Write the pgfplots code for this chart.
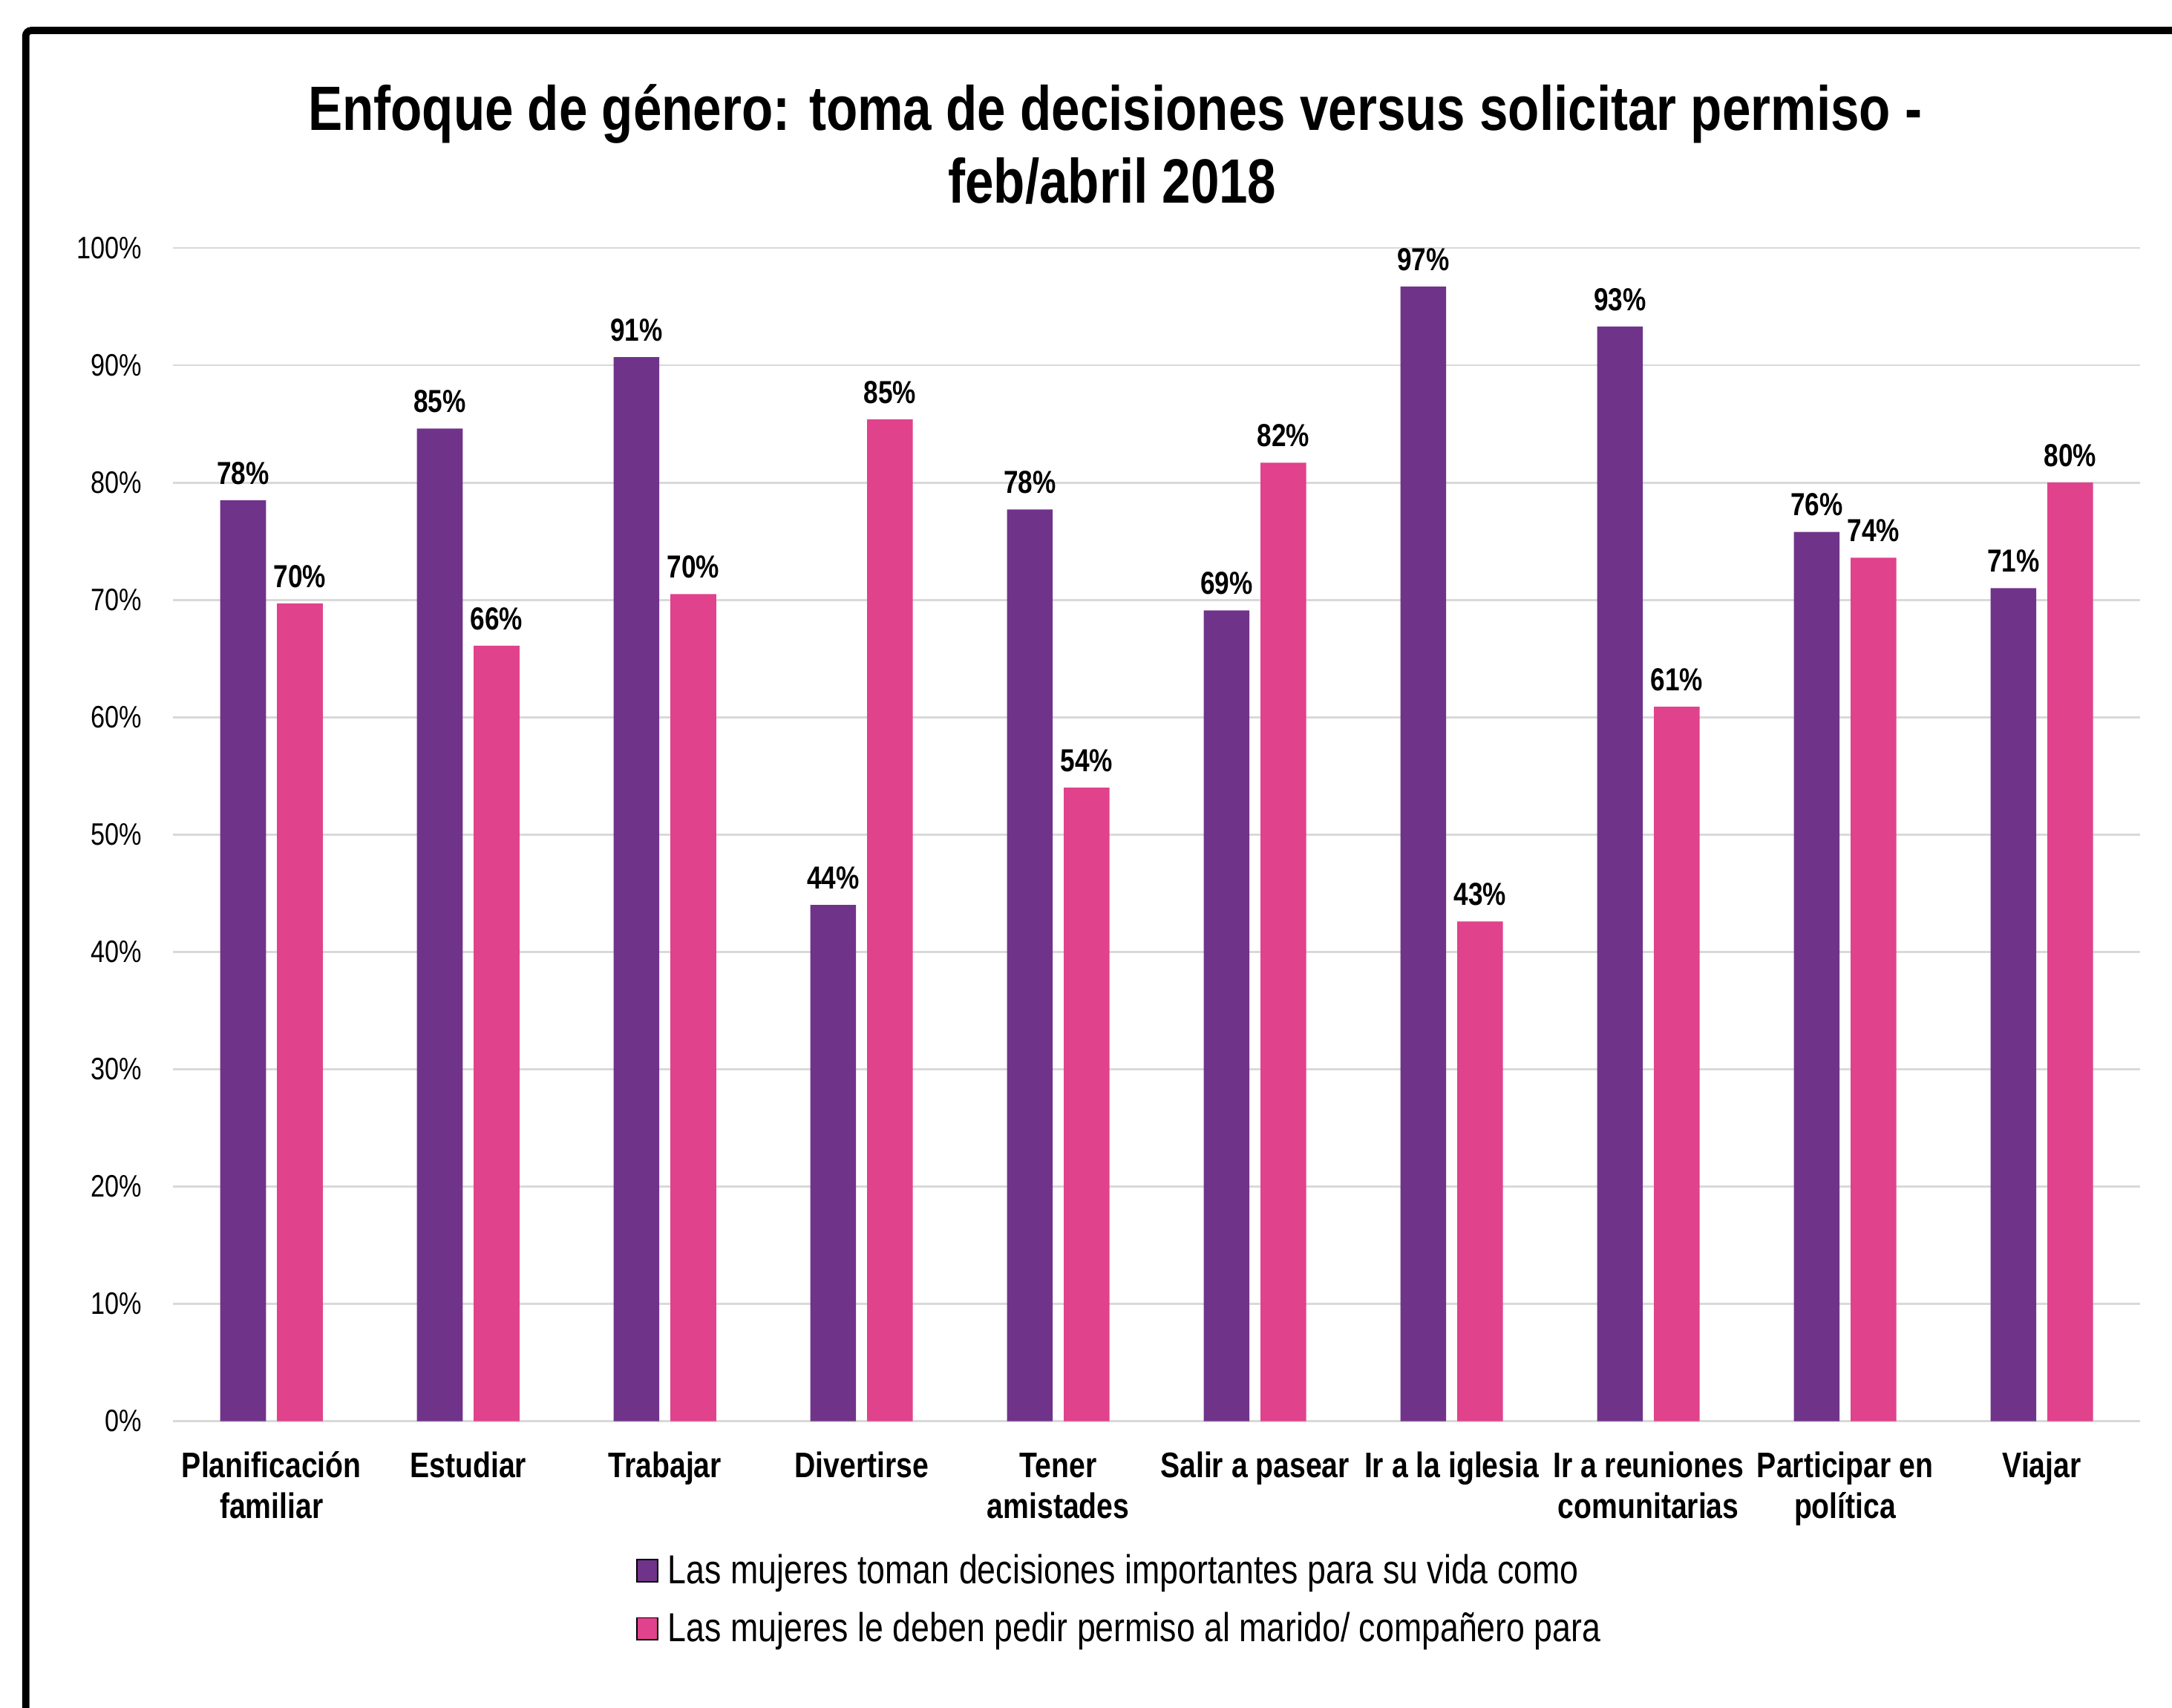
\documentclass[border=0pt]{standalone}
\usepackage{fontspec}
\setmainfont[FakeStretch=0.82]{Liberation Sans}
\usepackage{pgfplots}
\pgfplotsset{compat=1.18}
\definecolor{morado}{RGB}{112,51,138}
\definecolor{rosa}{RGB}{224,66,140}
\definecolor{rejilla}{RGB}{217,217,217}
\newcommand\st{\rule{0pt}{10pt}}
\pgfplotsset{
  /pgfplots/ybar legend/.style={
    /pgfplots/legend image code/.code={
      \draw[##1,/tikz/.cd] (0pt,-4pt) rectangle (7.5pt,4pt);
    },
  },
}

\begin{document}
\begin{tikzpicture}
\useasboundingbox (-62.5pt,-103.5pt) rectangle (721.5pt,513pt);
% marco recortado (solo arriba e izquierda)
\draw[line width=2.6pt, rounded corners=2pt] (-53.2pt,-115pt) -- (-53.2pt,502pt) -- (730pt,502pt);
\node[anchor=base, font=\bfseries\fontsize{22.6}{26}\selectfont] at (340pt,465.9pt)
  {Enfoque de género: toma de decisiones versus solicitar permiso -};
\node[anchor=base, font=\bfseries\fontsize{22.6}{26}\selectfont] at (339pt,439.8pt)
  {feb/abril 2018};
\begin{axis}[
    at={(0pt,0pt)}, anchor=south west,
    scale only axis, width=710pt, height=423.5pt,
    ybar=4pt, bar width=16.5pt,
    xmin=-0.5, xmax=9.5, ymin=0, ymax=100,
    axis line style={draw=none},
    major tick length=0pt,
    ymajorgrids, grid style={rejilla, line width=0.75pt},
    ytick={0,10,...,100},
    yticklabel={\pgfmathprintnumber{\tick}\%},
    /pgf/number format/assume math mode=true,
    yticklabel style={font=\fontsize{11.2}{13}\selectfont, anchor=east, inner sep=0pt, xshift=-11pt},
    xtick={0,...,9},
    xticklabels={
      {\st Planificación\\familiar},
      {\st Estudiar},
      {\st Trabajar},
      {\st Divertirse},
      {\st Tener\\amistades},
      {\st Salir a pasear},
      {\st Ir a la iglesia},
      {\st Ir a reuniones\\comunitarias},
      {\st Participar en\\política},
      {\st Viajar}},
    xticklabel style={font=\bfseries\fontsize{12.8}{14.75}\selectfont, align=center, anchor=north, inner sep=0pt, yshift=-10.25pt},
    point meta=explicit symbolic,
    nodes near coords={\pgfplotspointmeta\%},
    every node near coord/.append style={font=\bfseries\fontsize{11.5}{13}\selectfont, anchor=south, inner sep=0pt, yshift=5.5pt, text=black},
    legend style={at={(0.2352,-0.1103)}, anchor=north west, draw=none, fill=none, inner sep=0pt,
      font=\fontsize{14.6}{16}\selectfont,
      nodes={inner sep=0pt, text height=11.7pt, text depth=2.3pt},
      row sep=7pt,
      /tikz/every odd column/.append style={column sep=3.5pt}},
    legend cell align=left,
]

% Las mujeres toman decisiones importantes
\addplot[fill=morado, draw=none] coordinates {
  (0,78.5) [78] (1,84.6) [85] (2,90.7) [91] (3,44.0) [44] (4,77.7) [78]
  (5,69.1) [69] (6,96.7) [97] (7,93.3) [93] (8,75.8) [76] (9,71.0) [71]
};
\addlegendentry{Las mujeres toman decisiones importantes para su vida como}

% Las mujeres deben pedir permiso
\addplot[fill=rosa, draw=none] coordinates {
  (0,69.7) [70] (1,66.1) [66] (2,70.5) [70] (3,85.4) [85] (4,54.0) [54]
  (5,81.7) [82] (6,42.6) [43] (7,60.9) [61] (8,73.6) [74] (9,80.0) [80]
};
\addlegendentry{Las mujeres le deben pedir permiso al marido/ compañero para}

\end{axis}
\end{tikzpicture}
\end{document}
